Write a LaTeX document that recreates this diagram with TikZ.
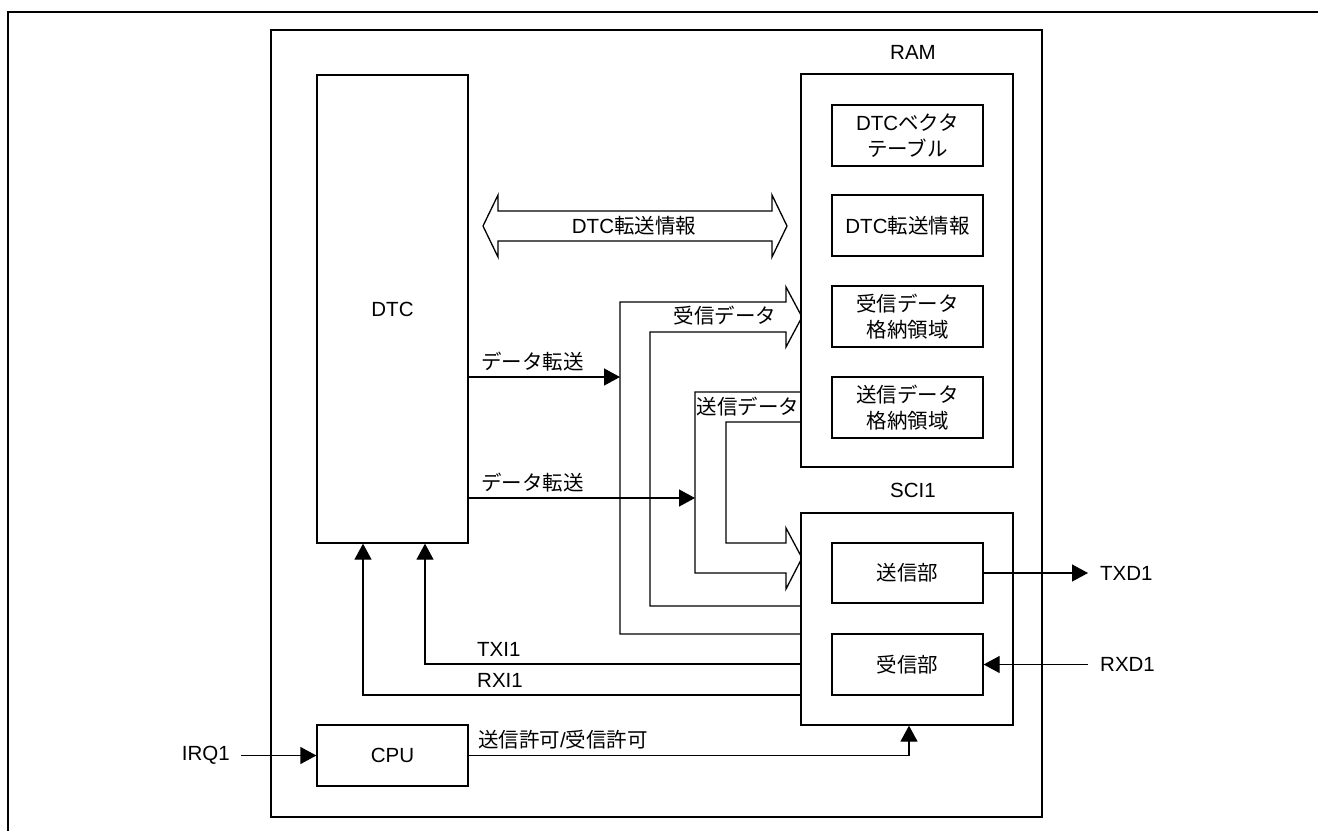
\documentclass[tikz,border=0pt]{standalone}
\usepackage{fontspec}
\setmainfont{Liberation Sans}
\newfontfamily\jp{Noto Sans CJK JP}
\usetikzlibrary{arrows.meta}
\begin{document}
\begin{tikzpicture}[x=1pt,y=-1pt,
  every node/.style={font=\fontsize{20.5}{26}\selectfont, inner sep=0pt},
  box/.style={draw, line width=1.3pt, align=center, fill=white},
  ln/.style={line width=1.3pt},
  blk/.style={line width=1.3pt, line join=miter},
  arr/.style={line width=1.3pt, -{Triangle[length=16pt,width=17pt]}},
  frame/.style={line width=2.3pt},
  lbl/.style={align=center}
]
\useasboundingbox (0,0) rectangle (1318,831);

% outer frame
\draw[frame] (1318,12) -- (8,12) -- (8,831);
% main chip box
\draw[line width=1.5pt] (271,30) rectangle (1042,817);

% block arrow: receive data (SCI1 -> RAM)
\draw[blk] (801,634) -- (620,634) -- (620,302) -- (786,302) -- (786,287)
  -- (802,317) -- (786,347) -- (786,332) -- (650,332) -- (650,606) -- (801,606);
% block arrow: transmit data (RAM -> SCI1)
\draw[blk] (801,392) -- (695,392) -- (695,573) -- (786,573) -- (786,589)
  -- (802,558) -- (786,528) -- (786,543) -- (726,543) -- (726,422) -- (801,422);
% double block arrow: DTC transfer info
\draw[blk] (483,226) -- (498,195) -- (498,211) -- (772,211) -- (772,195)
  -- (787,226) -- (772,257) -- (772,241) -- (498,241) -- (498,257) -- cycle;
\node[lbl] (infolbl) at (634,226) {DTC{\jp 転送情報}};

% RAM
\node[lbl] (ramlbl) at (913,52) {RAM};
\node[box, minimum width=212pt, minimum height=393pt] (ram) at (907,270.5) {};
\node[box, minimum width=151pt, minimum height=61pt] (vec) at (907.5,135.5) {DTC{\jp ベクタ}\\{\jp テーブル}};
\node[box, minimum width=151pt, minimum height=61pt] (info) at (907.5,225.5) {DTC{\jp 転送情報}};
\node[box, minimum width=151pt, minimum height=61pt] (rbuf) at (907.5,316.5) {{\jp 受信データ}\\{\jp 格納領域}};
\node[box, minimum width=151pt, minimum height=61pt] (sbuf) at (907.5,407.5) {{\jp 送信データ}\\{\jp 格納領域}};

% SCI1
\node[lbl] (scilbl) at (913,490) {SCI1};
\node[box, minimum width=212pt, minimum height=212pt] (sci) at (907,619) {};
\node[box, minimum width=151pt, minimum height=60pt] (tx) at (907.5,573) {{\jp 送信部}};
\node[box, minimum width=151pt, minimum height=61pt] (rx) at (907.5,664.5) {{\jp 受信部}};

% DTC, CPU
\node[box, minimum width=151pt, minimum height=468pt] (dtc) at (392.5,309) {DTC};
\node[box, minimum width=151pt, minimum height=61pt] (cpu) at (392.5,755.5) {CPU};

% labels inside block arrows
\node[lbl] (rlbl) at (725,316) {{\jp 受信データ}};
\node[lbl] (slbl) at (748,407) {{\jp 送信データ}};

% data transfer arrows
\coordinate (rin) at (620,377);
\coordinate (sin) at (695,498);
\draw[arr] (dtc.east |- rin) -- (rin);
\node[anchor=west] (dt1) at (481,362) {{\jp データ転送}};
\draw[arr] (dtc.east |- sin) -- (sin);
\node[anchor=west] (dt2) at (481,483) {{\jp データ転送}};

% interrupts
\draw[arr] (sci.west |- 0,664) -| ([xshift=32.5pt]dtc.south);
\node[anchor=west] (txi) at (477,649) {TXI1};
\draw[arr] (sci.west |- 0,695) -| ([xshift=-29.5pt]dtc.south);
\node[anchor=west] (rxi) at (477,680) {RXI1};

% external pins
\node[anchor=west] (txd) at (1100,573) {TXD1};
\draw[arr] (tx.east) -- ([xshift=-12pt]txd.west);
\node[anchor=west] (rxd) at (1100,664.5) {RXD1};
\draw[arr] ([xshift=-12pt]rxd.west) -- (rx.east);
\node[anchor=east] (irq) at (230,755.5) {IRQ1};
\draw[arr] ([xshift=11pt]irq.east) -- (cpu.west);

% CPU enable
\draw[arr] (cpu.east) -| ([xshift=2pt]sci.south);
\node[anchor=west] (en) at (478,740) {{\jp 送信許可}/{\jp 受信許可}};
\end{tikzpicture}
\end{document}
